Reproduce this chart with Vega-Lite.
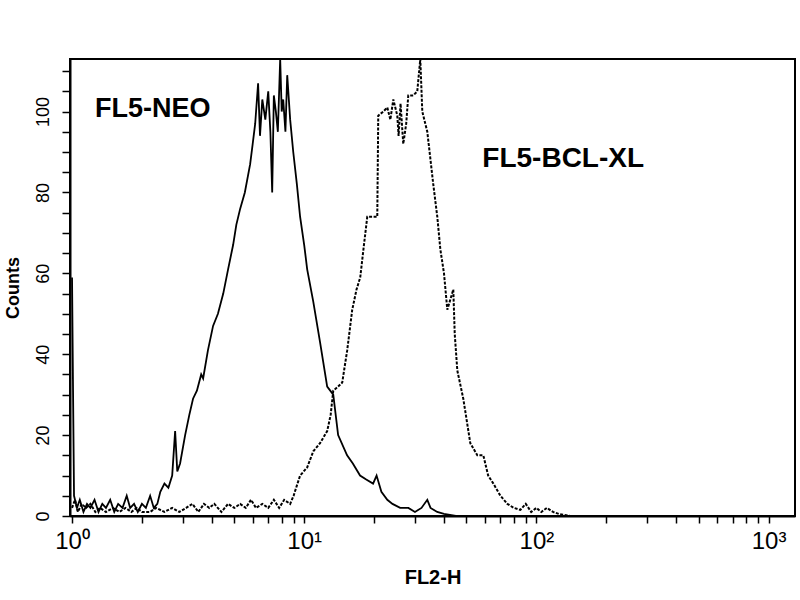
{
  "$schema": "https://vega.github.io/schema/vega-lite/v6.json",
  "autosize": "none",
  "width": 725,
  "height": 457,
  "padding": {"left": 70, "top": 59, "right": 5, "bottom": 84},
  "background": "white",
  "config": {
    "view": {"stroke": "black", "strokeWidth": 2},
    "axis": {"domainColor": "black", "domainWidth": 2, "tickColor": "black", "tickWidth": 1.5, "labelColor": "black", "titleColor": "black", "grid": false, "labelFont": "Liberation Sans", "titleFont": "Liberation Sans"}
  },
  "datasets": {
    "hist": [
      {"series": "NEO", "fl2": 1.0, "count": 59},
      {"series": "NEO", "fl2": 1.01, "count": 31},
      {"series": "NEO", "fl2": 1.02, "count": 5},
      {"series": "NEO", "fl2": 1.05, "count": 2},
      {"series": "NEO", "fl2": 1.08, "count": 4},
      {"series": "NEO", "fl2": 1.12, "count": 1},
      {"series": "NEO", "fl2": 1.16, "count": 3},
      {"series": "NEO", "fl2": 1.2, "count": 2},
      {"series": "NEO", "fl2": 1.25, "count": 4},
      {"series": "NEO", "fl2": 1.3, "count": 1},
      {"series": "NEO", "fl2": 1.35, "count": 3},
      {"series": "NEO", "fl2": 1.4, "count": 2},
      {"series": "NEO", "fl2": 1.46, "count": 4},
      {"series": "NEO", "fl2": 1.52, "count": 1},
      {"series": "NEO", "fl2": 1.58, "count": 3},
      {"series": "NEO", "fl2": 1.65, "count": 2},
      {"series": "NEO", "fl2": 1.72, "count": 5},
      {"series": "NEO", "fl2": 1.78, "count": 2},
      {"series": "NEO", "fl2": 1.85, "count": 3},
      {"series": "NEO", "fl2": 1.92, "count": 1},
      {"series": "NEO", "fl2": 2.0, "count": 3},
      {"series": "NEO", "fl2": 2.08, "count": 2},
      {"series": "NEO", "fl2": 2.17, "count": 5},
      {"series": "NEO", "fl2": 2.25, "count": 2},
      {"series": "NEO", "fl2": 2.33, "count": 3},
      {"series": "NEO", "fl2": 2.4, "count": 6},
      {"series": "NEO", "fl2": 2.5, "count": 8},
      {"series": "NEO", "fl2": 2.6, "count": 7},
      {"series": "NEO", "fl2": 2.7, "count": 10},
      {"series": "NEO", "fl2": 2.78, "count": 21},
      {"series": "NEO", "fl2": 2.84, "count": 11},
      {"series": "NEO", "fl2": 2.92, "count": 13},
      {"series": "NEO", "fl2": 3.07, "count": 20},
      {"series": "NEO", "fl2": 3.2, "count": 25},
      {"series": "NEO", "fl2": 3.32, "count": 29},
      {"series": "NEO", "fl2": 3.45, "count": 31},
      {"series": "NEO", "fl2": 3.6, "count": 35},
      {"series": "NEO", "fl2": 3.67, "count": 34},
      {"series": "NEO", "fl2": 3.85, "count": 41},
      {"series": "NEO", "fl2": 4.05, "count": 47},
      {"series": "NEO", "fl2": 4.25, "count": 50},
      {"series": "NEO", "fl2": 4.48, "count": 55},
      {"series": "NEO", "fl2": 4.7, "count": 61},
      {"series": "NEO", "fl2": 4.94, "count": 67},
      {"series": "NEO", "fl2": 5.1, "count": 72},
      {"series": "NEO", "fl2": 5.3, "count": 76},
      {"series": "NEO", "fl2": 5.55, "count": 80},
      {"series": "NEO", "fl2": 5.85, "count": 87},
      {"series": "NEO", "fl2": 6.0, "count": 92},
      {"series": "NEO", "fl2": 6.15, "count": 97},
      {"series": "NEO", "fl2": 6.33, "count": 107},
      {"series": "NEO", "fl2": 6.45, "count": 94},
      {"series": "NEO", "fl2": 6.6, "count": 103},
      {"series": "NEO", "fl2": 6.8, "count": 98},
      {"series": "NEO", "fl2": 7.0, "count": 105},
      {"series": "NEO", "fl2": 7.15, "count": 95},
      {"series": "NEO", "fl2": 7.28, "count": 80},
      {"series": "NEO", "fl2": 7.4, "count": 104},
      {"series": "NEO", "fl2": 7.55, "count": 100},
      {"series": "NEO", "fl2": 7.7, "count": 95},
      {"series": "NEO", "fl2": 7.88, "count": 113},
      {"series": "NEO", "fl2": 8.0, "count": 100},
      {"series": "NEO", "fl2": 8.12, "count": 103},
      {"series": "NEO", "fl2": 8.3, "count": 95},
      {"series": "NEO", "fl2": 8.45, "count": 109},
      {"series": "NEO", "fl2": 8.7, "count": 98},
      {"series": "NEO", "fl2": 8.97, "count": 90},
      {"series": "NEO", "fl2": 9.3, "count": 82},
      {"series": "NEO", "fl2": 9.6, "count": 74},
      {"series": "NEO", "fl2": 10.0, "count": 67},
      {"series": "NEO", "fl2": 10.3, "count": 61},
      {"series": "NEO", "fl2": 10.94, "count": 53},
      {"series": "NEO", "fl2": 11.7, "count": 43},
      {"series": "NEO", "fl2": 12.56, "count": 32},
      {"series": "NEO", "fl2": 13.34, "count": 30},
      {"series": "NEO", "fl2": 14.0, "count": 20},
      {"series": "NEO", "fl2": 15.3, "count": 15},
      {"series": "NEO", "fl2": 16.2, "count": 13},
      {"series": "NEO", "fl2": 17.4, "count": 10},
      {"series": "NEO", "fl2": 18.5, "count": 9},
      {"series": "NEO", "fl2": 19.8, "count": 8},
      {"series": "NEO", "fl2": 20.5, "count": 10},
      {"series": "NEO", "fl2": 21.5, "count": 6},
      {"series": "NEO", "fl2": 22.8, "count": 4},
      {"series": "NEO", "fl2": 24.0, "count": 3},
      {"series": "NEO", "fl2": 25.9, "count": 2},
      {"series": "NEO", "fl2": 28.1, "count": 2},
      {"series": "NEO", "fl2": 30.0, "count": 1},
      {"series": "NEO", "fl2": 32.0, "count": 2},
      {"series": "NEO", "fl2": 33.9, "count": 4},
      {"series": "NEO", "fl2": 35.0, "count": 2},
      {"series": "NEO", "fl2": 37.4, "count": 1},
      {"series": "NEO", "fl2": 40.0, "count": 0.5},
      {"series": "NEO", "fl2": 45.0, "count": 0},
      {"series": "NEO", "fl2": 1300, "count": 0},
      {"series": "BCL-XL", "fl2": 1.0, "count": 2},
      {"series": "BCL-XL", "fl2": 1.03, "count": 4},
      {"series": "BCL-XL", "fl2": 1.06, "count": 1},
      {"series": "BCL-XL", "fl2": 1.1, "count": 3},
      {"series": "BCL-XL", "fl2": 1.15, "count": 2},
      {"series": "BCL-XL", "fl2": 1.2, "count": 3},
      {"series": "BCL-XL", "fl2": 1.26, "count": 1},
      {"series": "BCL-XL", "fl2": 1.32, "count": 2},
      {"series": "BCL-XL", "fl2": 1.4, "count": 1},
      {"series": "BCL-XL", "fl2": 1.5, "count": 2},
      {"series": "BCL-XL", "fl2": 1.6, "count": 1},
      {"series": "BCL-XL", "fl2": 1.7, "count": 2},
      {"series": "BCL-XL", "fl2": 1.8, "count": 1},
      {"series": "BCL-XL", "fl2": 1.9, "count": 2},
      {"series": "BCL-XL", "fl2": 2.0, "count": 1},
      {"series": "BCL-XL", "fl2": 2.17, "count": 1},
      {"series": "BCL-XL", "fl2": 2.3, "count": 2},
      {"series": "BCL-XL", "fl2": 2.5, "count": 1},
      {"series": "BCL-XL", "fl2": 2.7, "count": 2},
      {"series": "BCL-XL", "fl2": 2.9, "count": 1},
      {"series": "BCL-XL", "fl2": 3.1, "count": 2},
      {"series": "BCL-XL", "fl2": 3.3, "count": 3},
      {"series": "BCL-XL", "fl2": 3.5, "count": 1},
      {"series": "BCL-XL", "fl2": 3.7, "count": 3},
      {"series": "BCL-XL", "fl2": 3.9, "count": 2},
      {"series": "BCL-XL", "fl2": 4.1, "count": 3},
      {"series": "BCL-XL", "fl2": 4.4, "count": 1},
      {"series": "BCL-XL", "fl2": 4.7, "count": 3},
      {"series": "BCL-XL", "fl2": 5.0, "count": 2},
      {"series": "BCL-XL", "fl2": 5.3, "count": 3},
      {"series": "BCL-XL", "fl2": 5.6, "count": 2},
      {"series": "BCL-XL", "fl2": 5.9, "count": 4},
      {"series": "BCL-XL", "fl2": 6.2, "count": 2},
      {"series": "BCL-XL", "fl2": 6.6, "count": 3},
      {"series": "BCL-XL", "fl2": 7.0, "count": 2},
      {"series": "BCL-XL", "fl2": 7.4, "count": 4},
      {"series": "BCL-XL", "fl2": 7.8, "count": 2},
      {"series": "BCL-XL", "fl2": 8.2, "count": 4},
      {"series": "BCL-XL", "fl2": 8.7, "count": 3},
      {"series": "BCL-XL", "fl2": 9.0, "count": 5},
      {"series": "BCL-XL", "fl2": 9.6, "count": 10},
      {"series": "BCL-XL", "fl2": 10.3, "count": 12},
      {"series": "BCL-XL", "fl2": 10.94, "count": 16},
      {"series": "BCL-XL", "fl2": 11.7, "count": 18},
      {"series": "BCL-XL", "fl2": 12.56, "count": 21},
      {"series": "BCL-XL", "fl2": 13.0, "count": 25},
      {"series": "BCL-XL", "fl2": 13.34, "count": 31},
      {"series": "BCL-XL", "fl2": 14.0, "count": 32},
      {"series": "BCL-XL", "fl2": 14.58, "count": 33},
      {"series": "BCL-XL", "fl2": 15.32, "count": 41},
      {"series": "BCL-XL", "fl2": 16.1, "count": 51},
      {"series": "BCL-XL", "fl2": 16.8, "count": 56},
      {"series": "BCL-XL", "fl2": 17.43, "count": 59},
      {"series": "BCL-XL", "fl2": 18.0, "count": 66},
      {"series": "BCL-XL", "fl2": 18.69, "count": 74},
      {"series": "BCL-XL", "fl2": 19.8, "count": 74},
      {"series": "BCL-XL", "fl2": 20.64, "count": 74},
      {"series": "BCL-XL", "fl2": 20.84, "count": 99},
      {"series": "BCL-XL", "fl2": 21.9, "count": 100},
      {"series": "BCL-XL", "fl2": 22.8, "count": 101},
      {"series": "BCL-XL", "fl2": 23.5, "count": 98},
      {"series": "BCL-XL", "fl2": 24.2, "count": 103},
      {"series": "BCL-XL", "fl2": 25.17, "count": 99},
      {"series": "BCL-XL", "fl2": 25.5, "count": 94},
      {"series": "BCL-XL", "fl2": 26.0, "count": 102},
      {"series": "BCL-XL", "fl2": 26.71, "count": 92},
      {"series": "BCL-XL", "fl2": 27.5, "count": 97},
      {"series": "BCL-XL", "fl2": 28.07, "count": 104},
      {"series": "BCL-XL", "fl2": 29.5, "count": 104},
      {"series": "BCL-XL", "fl2": 30.69, "count": 105},
      {"series": "BCL-XL", "fl2": 31.62, "count": 113},
      {"series": "BCL-XL", "fl2": 32.26, "count": 100},
      {"series": "BCL-XL", "fl2": 33.9, "count": 95},
      {"series": "BCL-XL", "fl2": 35.0, "count": 88},
      {"series": "BCL-XL", "fl2": 35.97, "count": 82},
      {"series": "BCL-XL", "fl2": 37.43, "count": 74},
      {"series": "BCL-XL", "fl2": 38.57, "count": 66},
      {"series": "BCL-XL", "fl2": 40.0, "count": 60},
      {"series": "BCL-XL", "fl2": 41.34, "count": 51},
      {"series": "BCL-XL", "fl2": 43.87, "count": 56},
      {"series": "BCL-XL", "fl2": 44.5, "count": 45},
      {"series": "BCL-XL", "fl2": 45.65, "count": 36},
      {"series": "BCL-XL", "fl2": 48.44, "count": 29},
      {"series": "BCL-XL", "fl2": 50.0, "count": 24},
      {"series": "BCL-XL", "fl2": 51.93, "count": 18},
      {"series": "BCL-XL", "fl2": 55.68, "count": 15},
      {"series": "BCL-XL", "fl2": 59.09, "count": 15},
      {"series": "BCL-XL", "fl2": 62.0, "count": 10},
      {"series": "BCL-XL", "fl2": 65.28, "count": 8},
      {"series": "BCL-XL", "fl2": 70.0, "count": 5},
      {"series": "BCL-XL", "fl2": 75.0, "count": 3},
      {"series": "BCL-XL", "fl2": 80.0, "count": 2},
      {"series": "BCL-XL", "fl2": 85.3, "count": 1.5},
      {"series": "BCL-XL", "fl2": 90.0, "count": 3},
      {"series": "BCL-XL", "fl2": 95.0, "count": 1},
      {"series": "BCL-XL", "fl2": 100.0, "count": 2},
      {"series": "BCL-XL", "fl2": 105.0, "count": 1},
      {"series": "BCL-XL", "fl2": 111.0, "count": 2},
      {"series": "BCL-XL", "fl2": 118.0, "count": 1},
      {"series": "BCL-XL", "fl2": 125.0, "count": 0.5},
      {"series": "BCL-XL", "fl2": 140.0, "count": 0},
      {"series": "BCL-XL", "fl2": 1300, "count": 0}
    ],
    "labels": [
      {"label": "FL5-NEO", "fl2": 1.256, "count": 98.7, "group": "a"},
      {"label": "FL5-BCL-XL", "fl2": 58.5, "count": 86.3, "group": "b"}
    ]
  },
  "encoding": {
    "x": {"field": "fl2", "type": "quantitative", "scale": {"type": "log", "domain": [0.98, 1300], "nice": false},
      "axis": {"values": [1,2,3,4,5,6,7,8,9,10,20,30,40,50,60,70,80,90,100,200,300,400,500,600,700,800,900,1000],
        "labelExpr": "datum.value == 1 ? '10⁰' : datum.value == 10 ? '10¹' : datum.value == 100 ? '10²' : datum.value == 1000 ? '10³' : ''",
        "labelFontSize": 24, "labelPadding": 6, "tickSize": 7, "labelFlush": false, "labelOverlap": false,
        "title": "FL2-H", "titleFontSize": 20, "titleFontWeight": "bold", "titlePadding": 14}},
    "y": {"field": "count", "type": "quantitative", "scale": {"domain": [0, 113], "nice": false},
      "axis": {"values": [0,5,10,15,20,25,30,35,40,45,50,55,60,65,70,75,80,85,90,95,100,105,110],
        "labelExpr": "datum.value % 20 == 0 ? datum.label : ''",
        "labelAngle": -90, "labelAlign": "center", "labelBaseline": "bottom", "labelFontSize": 18, "labelPadding": 10, "tickSize": 8, "labelOverlap": false,
        "title": "Counts", "titleFontSize": 18, "titleFontWeight": "bold", "titlePadding": 12}}
  },
  "layer": [
    {
      "data": {"name": "hist"},
      "transform": [{"filter": "datum.series == 'NEO'"}],
      "mark": {"type": "line", "color": "black", "strokeWidth": 1.8, "clip": true}
    },
    {
      "data": {"name": "hist"},
      "transform": [{"filter": "datum.series == 'BCL-XL'"}],
      "mark": {"type": "line", "color": "black", "strokeWidth": 2, "strokeDash": [3, 1.5], "clip": true}
    },
    {
      "data": {"name": "labels"},
      "transform": [{"filter": "datum.group == 'a'"}],
      "mark": {"type": "text", "font": "Liberation Sans", "fontWeight": "bold", "fontSize": 27, "align": "left", "baseline": "alphabetic", "color": "black"},
      "encoding": {"text": {"field": "label"}}
    },
    {
      "data": {"name": "labels"},
      "transform": [{"filter": "datum.group == 'b'"}],
      "mark": {"type": "text", "font": "Liberation Sans", "fontWeight": "bold", "fontSize": 28, "align": "left", "baseline": "alphabetic", "color": "black"},
      "encoding": {"text": {"field": "label"}}
    }
  ]
}
